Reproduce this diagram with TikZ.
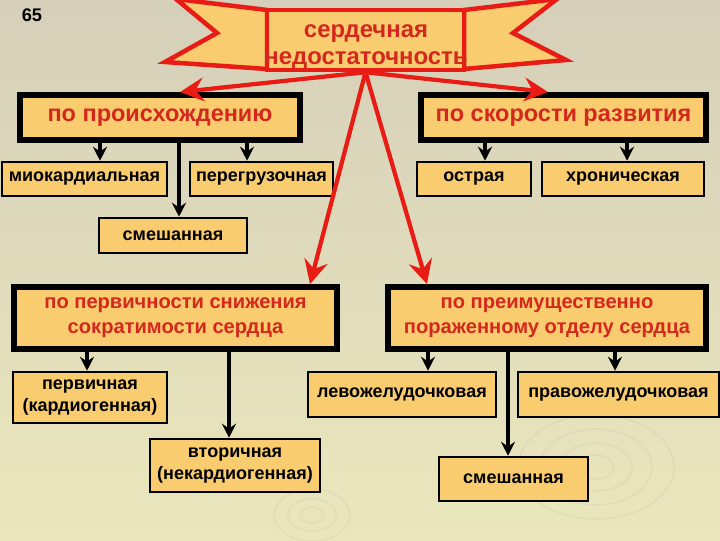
\documentclass[tikz,border=0pt]{standalone}
\usepackage{fontspec}
\setmainfont{Liberation Sans}
\usetikzlibrary{arrows.meta,positioning}

\definecolor{bgtop}{RGB}{214,207,186}
\definecolor{bgbot}{RGB}{234,231,188}
\definecolor{ripple}{RGB}{196,188,160}
\definecolor{boxfill}{RGB}{250,204,112}
\definecolor{ribred}{RGB}{232,28,20}
\definecolor{txtred}{RGB}{212,40,30}

\begin{document}
\begin{tikzpicture}[x=0.025cm, y=-0.025cm,
  head/.style={draw=black, line width=4.2pt, fill=boxfill, text=txtred, align=center, inner sep=0pt,
    font=\fontsize{16.7}{19}\selectfont\bfseries},
  head2/.style={head, font=\fontsize{14.3}{17.8}\selectfont\bfseries},
  leaf/.style={draw=black, line width=1.8pt, fill=boxfill, align=center, inner sep=0pt,
    font=\fontsize{12.8}{15.6}\selectfont\bfseries},
  rib/.style={draw=ribred, line width=3.2pt, fill=boxfill, line join=miter},
  wave/.style={draw=ripple, line width=1.2pt, opacity=0.2},
  blk/.style={black, line width=2.8pt, -{Stealth[length=10pt,width=10pt,inset=3.5pt]}},
  redarr/.style={ribred, line width=3pt, -{Stealth[length=17pt,width=17pt,inset=6pt]}}]
\shade[top color=bgtop, bottom color=bgbot] (0,0) rectangle (720,540);
\useasboundingbox (0,0) rectangle (720,540);

\draw[wave] (312,515) ellipse (12 and 8) (312,515) ellipse (24 and 16) (312,515) ellipse (38 and 26);
\draw[wave] (596,467) ellipse (18 and 12) (596,467) ellipse (36 and 24)
  (596,467) ellipse (56 and 38) (596,467) ellipse (78 and 52);

\node[font=\fontsize{13}{15}\selectfont\bfseries] (pg) at (32,15) {65};

\filldraw[rib] (176,-1) -- (267,10) -- (267,69) -- (165,62) -- (217,33) -- cycle;
\filldraw[rib] (557,-1) -- (464,10) -- (464,69) -- (566,60) -- (513,33) -- cycle;
\node[rib, minimum width=4.925cm, minimum height=1.5cm] (hf) at (365.5,40) {};
\node[text=txtred, align=center, inner sep=0pt, font=\fontsize{17}{19}\selectfont\bfseries]
  (hfname) at (366,47) {сердечная\\недостаточность};

\node[head, minimum width=7cm, minimum height=1.125cm] (orig) at (160,117.5) {по происхождению};
\node[head, minimum width=7.125cm, minimum height=1.125cm] (speed) at (563.5,117.5) {по скорости развития};
\node[head2, minimum width=8.075cm, minimum height=1.55cm] (contr) at (175.5,318) {по первичности снижения\\сократимости сердца};
\node[head2, minimum width=7.95cm, minimum height=1.55cm] (dept) at (547,318) {по преимущественно\\пораженному отделу сердца};

\node[leaf, minimum width=4.125cm, minimum height=0.85cm] (miok) at (84.5,179) {миокардиальная};
\node[leaf, minimum width=3.575cm, minimum height=0.85cm] (perg) at (261.5,179) {перегрузочная};
\node[leaf, minimum width=3.7cm, minimum height=0.875cm] (mix1) at (173,235.5) {смешанная};
\node[leaf, minimum width=2.85cm, minimum height=0.85cm] (acute) at (474,179) {острая};
\node[leaf, minimum width=4.05cm, minimum height=0.85cm] (chron) at (623,179) {хроническая};
\node[leaf, minimum width=3.85cm, minimum height=1.275cm] (prim) at (90,397.5) {первичная\\(кардиогенная)};
\node[leaf, minimum width=4.25cm, minimum height=1.325cm] (sec) at (235,465.5) {вторичная\\(некардиогенная)};
\node[leaf, minimum width=4.7cm, minimum height=1.125cm] (lv) at (402,394.5) {левожелудочковая};
\node[leaf, minimum width=5.025cm, minimum height=1.125cm] (rv) at (618.5,394.5) {правожелудочковая};
\node[leaf, minimum width=3.725cm, minimum height=1.1cm] (mix2) at (513.5,479) {смешанная};

\path[blk] (orig.south -| 100,0) edge (miok.north -| 100,0)
  (orig.south -| 179,0) edge (mix1.north -| 179,0)
  (orig.south -| 247,0) edge (perg.north -| 247,0);
\path[blk] (speed.south -| 485,0) edge (acute.north -| 485,0)
  (speed.south -| 627,0) edge (chron.north -| 627,0);
\path[blk] (contr.south -| 87,0) edge (prim.north -| 87,0)
  (contr.south -| 229,0) edge (sec.north -| 229,0);
\path[blk] (dept.south -| 428,0) edge (lv.north -| 428,0)
  (dept.south -| 508,0) edge (mix2.north -| 508,0)
  (dept.south -| 615,0) edge (rv.north -| 615,0);

\path[redarr] (hf.south) edge (orig.north -| 180,0)
  edge (speed.north -| 548,0)
  edge (contr.north -| 310,0)
  edge (dept.north -| 427,0);
\end{tikzpicture}
\end{document}
